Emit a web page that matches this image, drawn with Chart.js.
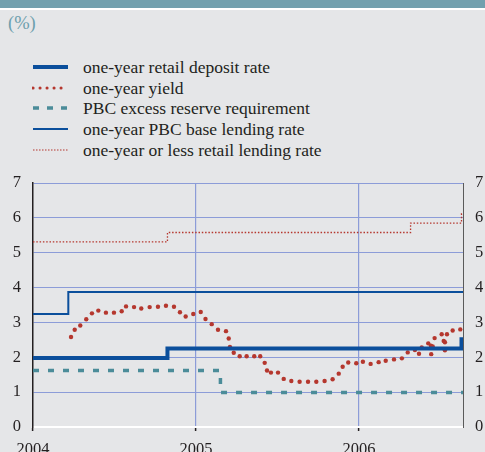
<!DOCTYPE html>
<html>
<head>
<meta charset="utf-8">
<script src="https://cdn.jsdelivr.net/npm/chart.js@4/dist/chart.umd.min.js"></script>
<style>
  html, body { margin: 0; padding: 0; background: #e5e6e8; }
  #wrap { position: relative; width: 485px; height: 452px; overflow: hidden; background: #e5e6e8; font-family: "Liberation Serif", "DejaVu Serif", serif; }
  #topbar { position: absolute; left: 0; top: 0; width: 485px; height: 8px; background: #72a0ae; }
  #topline { position: absolute; left: 0; top: 8px; width: 485px; height: 2px; background: #ffffff; }
  #unit { position: absolute; left: 8px; top: 11px; font-size: 18.5px; line-height: 24px; color: #6d9fad; }
  .leg { position: absolute; left: 32px; height: 20px; font-size: 17.5px; color: #231f20; }
  .leg svg { position: absolute; left: 0; top: 0; }
  .leg span { position: absolute; left: 51px; top: 0; line-height: 20px; white-space: nowrap; }
  #chartBox { position: absolute; left: 0; top: 0; width: 485px; height: 452px; }
</style>
</head>
<body>
<div id="wrap">
  <div id="topbar"></div>
  <div id="topline"></div>
  <div id="unit">(%)</div>
  <div id="legend"></div>
  <div id="chartBox"><canvas id="chart"></canvas></div>
</div>
<script>
// x values are months since January 2004
const yearLabels = ['2004', '2005', '2006'];
const yearTicks = [0, 12, 24];
const xMax = 31.66;

const depositMonths = [0, 9.9, 31.55, 31.66];
const depositRates = [1.98, 2.25, 2.52, 2.52];

const baseLendingMonths = [0, 2.6, 31.66];
const baseLendingRates = [3.24, 3.87, 3.87];

const retailLendingMonths = [0, 9.9, 27.8, 31.55, 31.66];
const retailLendingRates = [5.31, 5.58, 5.85, 6.12, 6.12];

const reserveMonths = [0, 13.8, 31.66];
const reserveRates = [1.62, 0.99, 0.99];

const yieldMonths = [2.80, 3.07, 3.48, 3.92, 4.34, 4.81, 5.37, 5.96, 6.53, 6.85, 7.44, 7.97, 8.59, 9.20,
  9.79, 10.38, 10.82, 11.24, 11.80, 12.35, 12.70, 13.16, 13.62, 14.21, 14.41, 14.50, 14.78, 15.22, 15.73,
  16.29, 16.73, 17.06, 17.23, 17.52, 18.04, 18.46, 19.02, 19.63, 20.25, 20.86, 21.47, 22.06, 22.51, 22.80,
  23.21, 23.80, 24.29, 24.86, 25.45, 25.97, 26.58, 27.16, 27.59, 28.12, 28.42, 28.62, 29.10, 29.30, 29.32,
  29.43, 29.57, 30.09, 30.24, 30.33, 30.33, 30.48, 30.90, 31.46];
const yieldValues = [2.58, 2.79, 2.91, 3.09, 3.26, 3.34, 3.28, 3.28, 3.32, 3.46, 3.44, 3.40, 3.44, 3.45,
  3.48, 3.45, 3.29, 3.17, 3.24, 3.30, 3.10, 2.95, 2.79, 2.75, 2.54, 2.30, 2.13, 2.03, 2.03,
  2.03, 2.03, 1.84, 1.62, 1.56, 1.56, 1.38, 1.32, 1.30, 1.30, 1.30, 1.32, 1.37, 1.53, 1.73,
  1.85, 1.83, 1.87, 1.81, 1.86, 1.90, 1.94, 1.97, 2.14, 2.21, 2.10, 2.28, 2.40, 2.33, 2.09,
  2.31, 2.55, 2.66, 2.47, 2.43, 2.20, 2.66, 2.77, 2.80];

const yTicks = [0, 1, 2, 3, 4, 5, 6, 7];

const blue = '#0b4f9c';
const red = '#b5372e';
const teal = '#4b8c99';
const gridBlue = '#8c9cd8';

function toPoints(xs, ys) {
  return xs.map((x, i) => ({ x: x, y: ys[i] }));
}

// legend built by hand so the line samples match the chart styles
const legendItems = [
  { label: 'one-year retail deposit rate', color: blue, width: 4, dash: '' },
  { label: 'one-year yield', color: red, width: 3, dash: '0.1 6.9', cap: 'round' },
  { label: 'PBC excess reserve requirement', color: teal, width: 3.5, dash: '6 8' },
  { label: 'one-year PBC base lending rate', color: blue, width: 2, dash: '' },
  { label: 'one-year or less retail lending rate', color: red, width: 1.2, dash: '1.5 1.5' }
];
const legendTops = [57, 78, 98, 119, 140];
const legendBox = document.getElementById('legend');
legendItems.forEach((item, i) => {
  const row = document.createElement('div');
  row.className = 'leg';
  row.style.top = legendTops[i] + 'px';
  row.innerHTML = '<svg width="40" height="20"><line x1="1" y1="10" x2="36" y2="10" stroke="' + item.color +
    '" stroke-width="' + item.width + '" stroke-dasharray="' + item.dash + '" stroke-linecap="' + (item.cap || 'butt') +
    '"/></svg><span>' + item.label + '</span>';
  legendBox.appendChild(row);
});

const ctx = document.getElementById('chart').getContext('2d');
const chart = new Chart(ctx, {
  type: 'line',
  data: {
    datasets: [
      {
        label: 'one-year or less retail lending rate',
        data: toPoints(retailLendingMonths, retailLendingRates),
        borderColor: red, borderWidth: 1.3, borderDash: [1.5, 1.8], stepped: 'before',
        pointRadius: 0, fill: false
      },
      {
        label: 'one-year PBC base lending rate',
        data: toPoints(baseLendingMonths, baseLendingRates),
        borderColor: blue, borderWidth: 2, stepped: 'before', pointRadius: 0, fill: false
      },
      {
        label: 'PBC excess reserve requirement',
        data: toPoints(reserveMonths, reserveRates),
        borderColor: teal, borderWidth: 3.5, borderDash: [6, 9], stepped: 'before', pointRadius: 0, fill: false
      },
      {
        label: 'one-year retail deposit rate',
        data: toPoints(depositMonths, depositRates),
        borderColor: blue, borderWidth: 4, stepped: 'before', pointRadius: 0, fill: false
      },
      {
        label: 'one-year yield',
        data: toPoints(yieldMonths, yieldValues),
        showLine: false, pointRadius: 2.2, pointBorderWidth: 0,
        pointBackgroundColor: red, borderColor: red
      }
    ]
  },
  options: {
    responsive: true,
    maintainAspectRatio: false,
    animation: false,
    layout: { padding: { top: 183, left: 0, right: 0, bottom: 0 } },
    plugins: { legend: { display: false }, tooltip: { enabled: false } },
    scales: {
      x: {
        type: 'linear',
        min: 0,
        max: xMax,
        afterFit: function(scale) { scale.height = 25; },
        afterBuildTicks: function(scale) {
          scale.ticks = yearTicks.map(v => ({ value: v }));
        },
        ticks: {
          color: '#231f20',
          font: { family: '"Liberation Serif", serif', size: 16.5 },
          padding: 9,
          maxRotation: 0,
          autoSkip: false,
          callback: function(value) {
            const i = yearTicks.indexOf(value);
            return i >= 0 ? yearLabels[i] : '';
          }
        },
        grid: {
          color: function(c) { return c.tick && c.tick.value === 0 ? 'rgba(0,0,0,0)' : gridBlue; },
          lineWidth: 1.2,
          tickColor: '#231f20',
          tickLength: 4,
          tickWidth: 1.5
        },
        border: { color: '#ffffff', width: 2 }
      },
      y: {
        position: 'left',
        min: 0,
        max: 7,
        afterFit: function(scale) { scale.width = 33; },
        afterBuildTicks: function(scale) {
          scale.ticks = yTicks.map(v => ({ value: v }));
        },
        ticks: {
          color: '#231f20',
          font: { family: '"Liberation Serif", serif', size: 16.5 },
          padding: 12
        },
        grid: {
          color: function(c) { return c.tick && c.tick.value === 0 ? 'rgba(0,0,0,0)' : gridBlue; },
          lineWidth: 1,
          drawTicks: false
        },
        border: { color: '#231f20', width: 1.5 }
      },
      y2: {
        position: 'right',
        min: 0,
        max: 7,
        afterFit: function(scale) { scale.width = 22; },
        afterBuildTicks: function(scale) {
          scale.ticks = yTicks.map(v => ({ value: v }));
        },
        ticks: {
          color: '#231f20',
          font: { family: '"Liberation Serif", serif', size: 16.5 },
          padding: 12
        },
        grid: { display: false, drawTicks: false },
        border: { color: '#5a5a5a', width: 1 }
      }
    }
  }
});
</script>
</body>
</html>
